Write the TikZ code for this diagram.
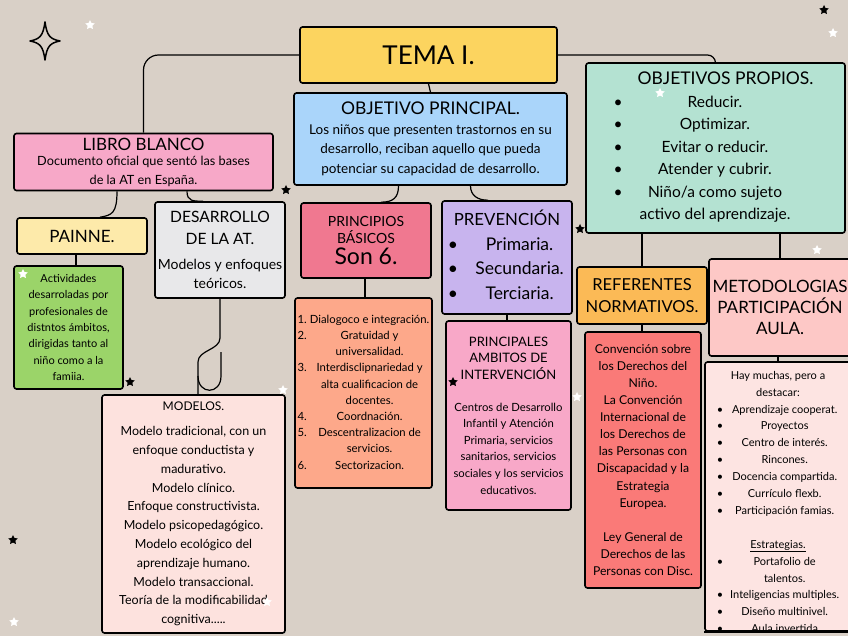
\documentclass[tikz,border=0pt]{standalone}
\usepackage{fontspec}
\setmainfont{Lato}
\usetikzlibrary{shapes.geometric,positioning,calc}

\definecolor{paper}{RGB}{217,208,199}
\definecolor{cTema}{RGB}{252,212,95}
\definecolor{cObjP}{RGB}{170,213,250}
\definecolor{cProp}{RGB}{180,226,210}
\definecolor{cLibro}{RGB}{247,168,200}
\definecolor{cPainne}{RGB}{253,234,170}
\definecolor{cActiv}{RGB}{155,212,105}
\definecolor{cDesa}{RGB}{232,232,234}
\definecolor{cModel}{RGB}{253,226,222}
\definecolor{cPrinc}{RGB}{240,120,144}
\definecolor{cList}{RGB}{253,168,138}
\definecolor{cPrev}{RGB}{200,180,238}
\definecolor{cAmbit}{RGB}{248,168,200}
\definecolor{cRefer}{RGB}{251,186,86}
\definecolor{cConv}{RGB}{250,122,120}
\definecolor{cMetod}{RGB}{253,200,198}
\definecolor{cHay}{RGB}{253,228,226}

\newcommand\fs[2]{\fontsize{#1}{#2}\selectfont}

\begin{document}
\begin{tikzpicture}[
    x=1pt, y=-1pt,
    box/.style={draw=black, line width=1.6pt, rounded corners=2.5pt, align=center, inner sep=0pt},
    link/.style={draw=black, line width=1.2pt},
    wstar/.style={star, star points=5, star point ratio=2, fill=white, minimum size=10pt, inner sep=0pt},
    bstar/.style={star, star points=5, star point ratio=2, fill=black, minimum size=10pt, inner sep=0pt}
]

% background
\useasboundingbox (0,0) rectangle (848,636);
\fill[paper] (0,0) rectangle (848,636);

% ====================
%      Top row
% ====================
\node[box, fill=cTema, minimum width=257, minimum height=56, font=\fs{26}{28}] (tema) at (428.5,55) {TEMA I.};

\node[box, fill=cObjP, minimum width=273, minimum height=92, font=\fs{13.5}{19.5}] (objp) at (430.5,139)
  {{\fs{17.5}{22}OBJETIVO PRINCIPAL.}\\Los niños que presenten trastornos en su\\desarrollo, reciban aquello que pueda\\potenciar su capacidad de desarrollo.};

\node[box, fill=cProp, minimum width=259, minimum height=170, font=\fs{15.5}{22.5}] (propios) at (715.5,148)
  {\begin{tabular}{@{}c@{\hspace{17pt}}c@{\hspace{27pt}}}
   \multicolumn{2}{@{}r@{\hspace{4pt}}}{\fs{17.5}{22.5}OBJETIVOS PROPIOS.}\\
   \textbullet & Reducir.\\
   \textbullet & Optimizar.\\
   \textbullet & Evitar o reducir.\\
   \textbullet & Atender y cubrir.\\
   \textbullet & Niño/a como sujeto\\
               & activo del aprendizaje.
   \end{tabular}};

% ====================
%     Left branch
% ====================
\node[box, fill=cLibro, minimum width=259, minimum height=57, font=\fs{12.7}{19}] (libro) at (143.5,162)
  {{\fs{17}{17}LIBRO BLANCO}\\[-4pt]Documento oficial que sentó las bases\\de la AT en España.};

\node[box, fill=cPainne, minimum width=130, minimum height=36, font=\fs{17}{18}] (painne) at (82,236) {PAINNE.};

\node[box, fill=cActiv, minimum width=109, minimum height=123, font=\fs{11}{16.3}] (activ) at (68.5,327.5)
  {Actividades\\desarroladas por\\profesionales de\\distntos ámbitos,\\dirigidas tanto al\\niño como a la\\famiia.};

\node[box, fill=cDesa, minimum width=130, minimum height=96, font=\fs{14}{19}] (desarrollo) at (220,250)
  {{\fs{15.6}{22}DESARROLLO}\\[3pt]{\fs{15.6}{22}DE LA AT.}\\[6pt]Modelos y enfoques\\teóricos.};

\node[box, fill=cModel, minimum width=183, minimum height=238, font=\fs{12.5}{18.8}] (modelos) at (193.5,514)
  {{\fs{12}{24}MODELOS.}\\[6pt]Modelo tradicional, con un\\enfoque conductista y\\madurativo.\\Modelo clínico.\\Enfoque constructivista.\\Modelo psicopedagógico.\\Modelo ecológico del\\aprendizaje humano.\\Modelo transaccional.\\Teoría de la modificabilidad\\cognitiva.....};

% ====================
%    Middle branch
% ====================
\node[box, fill=cPrinc, minimum width=130, minimum height=75, font=\fs{14}{17}] (principios) at (366,240.5)
  {PRINCIPIOS\\BÁSICOS\\[4pt]{\fs{23}{22}Son 6.}};

\node[box, fill=cList, minimum width=137, minimum height=190, font=\fs{11.3}{16.2}] (plist) at (363.5,393)
  {\begin{tabular}{@{}l@{\hspace{3pt}}c@{}}
   1. & Dialogoco e integración.\\
   2. & Gratuidad y\\
      & universalidad.\\
   3. & Interdisclipnariedad y\\
      & alta cualificacion de\\
      & docentes.\\
   4. & Coordnación.\\
   5. & Descentralizacion de\\
      & servicios.\\
   6. & Sectorizacion.
   \end{tabular}};

\node[box, fill=cPrev, minimum width=130, minimum height=113, font=\fs{17.5}{24.5}] (prevencion) at (507,257.5)
  {\begin{tabular}{@{}c@{\hspace{15pt}}c@{}}
   \multicolumn{2}{c}{\fs{16.8}{24.5}PREVENCIÓN}\\
   \textbullet & Primaria.\\
   \textbullet & Secundaria.\\
   \textbullet & Terciaria.
   \end{tabular}};

\node[box, fill=cAmbit, minimum width=125, minimum height=189, font=\fs{11.3}{16.6}] (ambitos) at (508.5,415.5)
  {{\fs{13}{16.6}PRINCIPALES}\\{\fs{13}{16.6}AMBITOS DE}\\{\fs{13}{16.6}INTERVENCIÓN}\\[15pt]Centros de Desarrollo\\Infantil y Atención\\Primaria, servicios\\sanitarios, servicios\\sociales y los servicios\\educativos.};

% ====================
%     Right branch
% ====================
\node[box, fill=cRefer, minimum width=130, minimum height=57, font=\fs{16.5}{22}] (referentes) at (642,295.5)
  {REFERENTES\\NORMATIVOS.};

\node[box, fill=cConv, minimum width=116, minimum height=256, font=\fs{12.2}{17.1}] (convencion) at (643,460)
  {Convención sobre\\los Derechos del\\Niño.\\La Convención\\Internacional de\\los Derechos de\\las Personas con\\Discapacidad y la\\Estrategia\\Europea.\\ \\Ley General de\\Derechos de las\\Personas con Disc.};

\node[box, fill=cMetod, minimum width=142, minimum height=97, font=\fs{17}{21}] (metod) at (780,307.5)
  {METODOLOGIAS\\PARTICIPACIÓN\\AULA.};

\node[box, fill=cHay, minimum width=146, minimum height=269] (hay) at (778,496.5) {};
\node[anchor=north, inner sep=0pt, font=\fs{11}{16.9}, align=center] (hay_text) at ([yshift=-6]hay.north)
  {\begin{tabular}{@{}c@{\hspace{7pt}}c@{}}
   \multicolumn{2}{c}{Hay muchas, pero a}\\
   \multicolumn{2}{c}{destacar:}\\
   \textbullet & Aprendizaje cooperat.\\
   \textbullet & Proyectos\\
   \textbullet & Centro de interés.\\
   \textbullet & Rincones.\\
   \textbullet & Docencia compartida.\\
   \textbullet & Currículo flexb.\\
   \textbullet & Participación famias.\\
   \multicolumn{2}{c}{}\\
   \multicolumn{2}{c}{\underline{Estrategias.}}\\
   \textbullet & Portafolio de\\
               & talentos.\\
   \textbullet & Inteligencias multiples.\\
   \textbullet & Diseño multinivel.\\
   \textbullet & Aula invertida
   \end{tabular}};
\draw[line width=1.6pt] (hay.south west) -- (hay.south east);

% ====================
%     Connections
% ====================
\draw[link, rounded corners=15] (tema.west) -| (libro.north);
\draw[link, rounded corners=8] (tema.east) -| (propios.north);
\draw[link] (tema.south) -- (objp.north);

\draw[link] ([xshift=-26.5]libro.south) .. controls +(0,22) and +(12,-2) .. ([xshift=18]painne.north);
\draw[link] ([xshift=43.5]libro.south) .. controls +(0,10) and +(-10,0) .. ([xshift=-17]desarrollo.north);
\draw[link] ([xshift=-6]painne.south) -- ([xshift=7.5]activ.north);

\coordinate (loop_top) at (220,338);
\coordinate (loop_left) at (198,362);
\draw[link] (desarrollo.south) -- (loop_top) .. controls +(0,12) and +(0,-12) .. (loop_left) -- ([xshift=4.5]modelos.north);
\draw[link] (198,376) .. controls (198,395) and (221,395) .. (221,376) -- (221,352);

\draw[link] ([xshift=-32]objp.south) .. controls +(0,12) and +(12,0) .. ([xshift=15]principios.north);
\draw[link] ([xshift=40]objp.south) .. controls +(0,10) and +(-10,0) .. ([xshift=-19]prevencion.north);
\draw[link] ([xshift=-1]principios.south) -- ([xshift=1.5]plist.north);
\draw[link] (prevencion.south) -- ([xshift=-1.5]ambitos.north);

\draw[link] ([xshift=-73.5]propios.south) -- (referentes.north);
\draw[link] ([xshift=64.5]propios.south) -- (metod.north);
\draw[link] (referentes.south) -- ([xshift=-1]convencion.north);
\draw[link] ([xshift=-2]metod.south) -- (hay.north);

% ====================
%     Decorations
% ====================
\draw[line width=1.5pt, line join=round] (45,22) .. controls (47,36) and (50,39) .. (60,41)
  .. controls (50,43) and (47,46) .. (45,60) .. controls (43,46) and (40,43) .. (30,41)
  .. controls (40,39) and (43,36) .. (45,22) -- cycle;

\foreach \px/\py in {90/25, 833/33, 23/274, 577/397, 817/250, 283/390, 267/602, 660/93, 14/622}
  \node[wstar] at (\px,\py) {};
\foreach \px/\py in {824/10, 286/190, 130/382, 580/229, 453/382, 13/540}
  \node[bstar] at (\px,\py) {};

\end{tikzpicture}
\end{document}
